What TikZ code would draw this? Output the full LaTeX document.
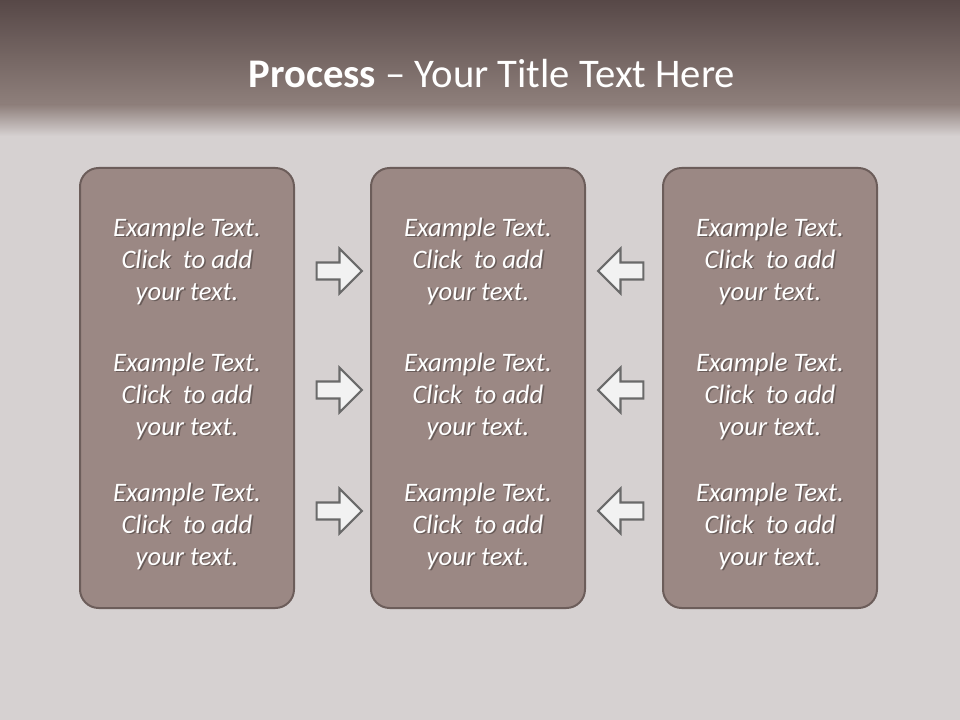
\documentclass[tikz,border=0pt]{standalone}
\usepackage{fontspec}
\setmainfont{Carlito}
\usetikzlibrary{positioning, shapes.arrows}

\definecolor{barTop}{HTML}{574847}
\definecolor{barBot}{HTML}{8F807C}
\definecolor{paper}{HTML}{D6D1D1}
\definecolor{boxFill}{HTML}{9B8884}
\definecolor{boxLine}{HTML}{6C5D5A}
\definecolor{arrLine}{HTML}{6A6A6A}
\definecolor{arrFill}{HTML}{F2F2F2}

\tikzset{
  panel/.style={draw=boxLine, line width=1.5pt, fill=boxFill, rounded corners=14pt,
    minimum width=160.5pt, minimum height=330pt},
  blurb/.style={text=white, font=\itshape\fontsize{20}{24}\selectfont, align=center},
  blurbshade/.style={blurb, text=boxLine!60!black, opacity=0.55},
  flow/.style={single arrow, draw=arrLine, line width=1.6pt, fill=arrFill,
    inner xsep=0pt, inner ysep=5.6pt, minimum height=34pt, single arrow head extend=10.4pt},
}

\begin{document}
\begin{tikzpicture}[x=0.75pt, y=-0.75pt]
  \useasboundingbox (0,0) rectangle (960,720);
  \fill[paper] (0,0) rectangle (960,720);
  \shade[top color=barTop, bottom color=barBot] (0,0) rectangle (960,106);
  \shade[top color=barBot, bottom color=paper] (0,105) rectangle (960,136);
  \node[text=white, anchor=base, font=\fontsize{30.5}{36}\selectfont] (title) at (492,88)
    {\textbf{Process} -- Your Title Text Here};

  % three columns
  \node[panel] (left) at (187,388) {};
  \node[panel, right=56.25pt of left] (middle) {};
  \node[panel, right=57pt of middle] (right) {};

  \foreach \y/\row in {261/a, 396/b, 526/c} {
    \coordinate (row\row) at (0,\y);
    \foreach \col in {left, middle, right} {
      \node[blurbshade, xshift=1.2pt, yshift=-1.2pt] (shd-\col-\row) at (\col |- row\row)
        {Example Text.\\Click~ to add\\your text.};
      \node[blurb] (txt-\col-\row) at (\col |- row\row)
        {Example Text.\\Click~ to add\\your text.};
    }
  }

  % block arrows
  \foreach \y/\row in {271/a, 390/b, 511/c} {
    \node[flow] (fwd-\row) at (335,\y) {};
    \node[flow, shape border rotate=180] (back-\row) at (625,\y) {};
  }
\end{tikzpicture}
\end{document}
